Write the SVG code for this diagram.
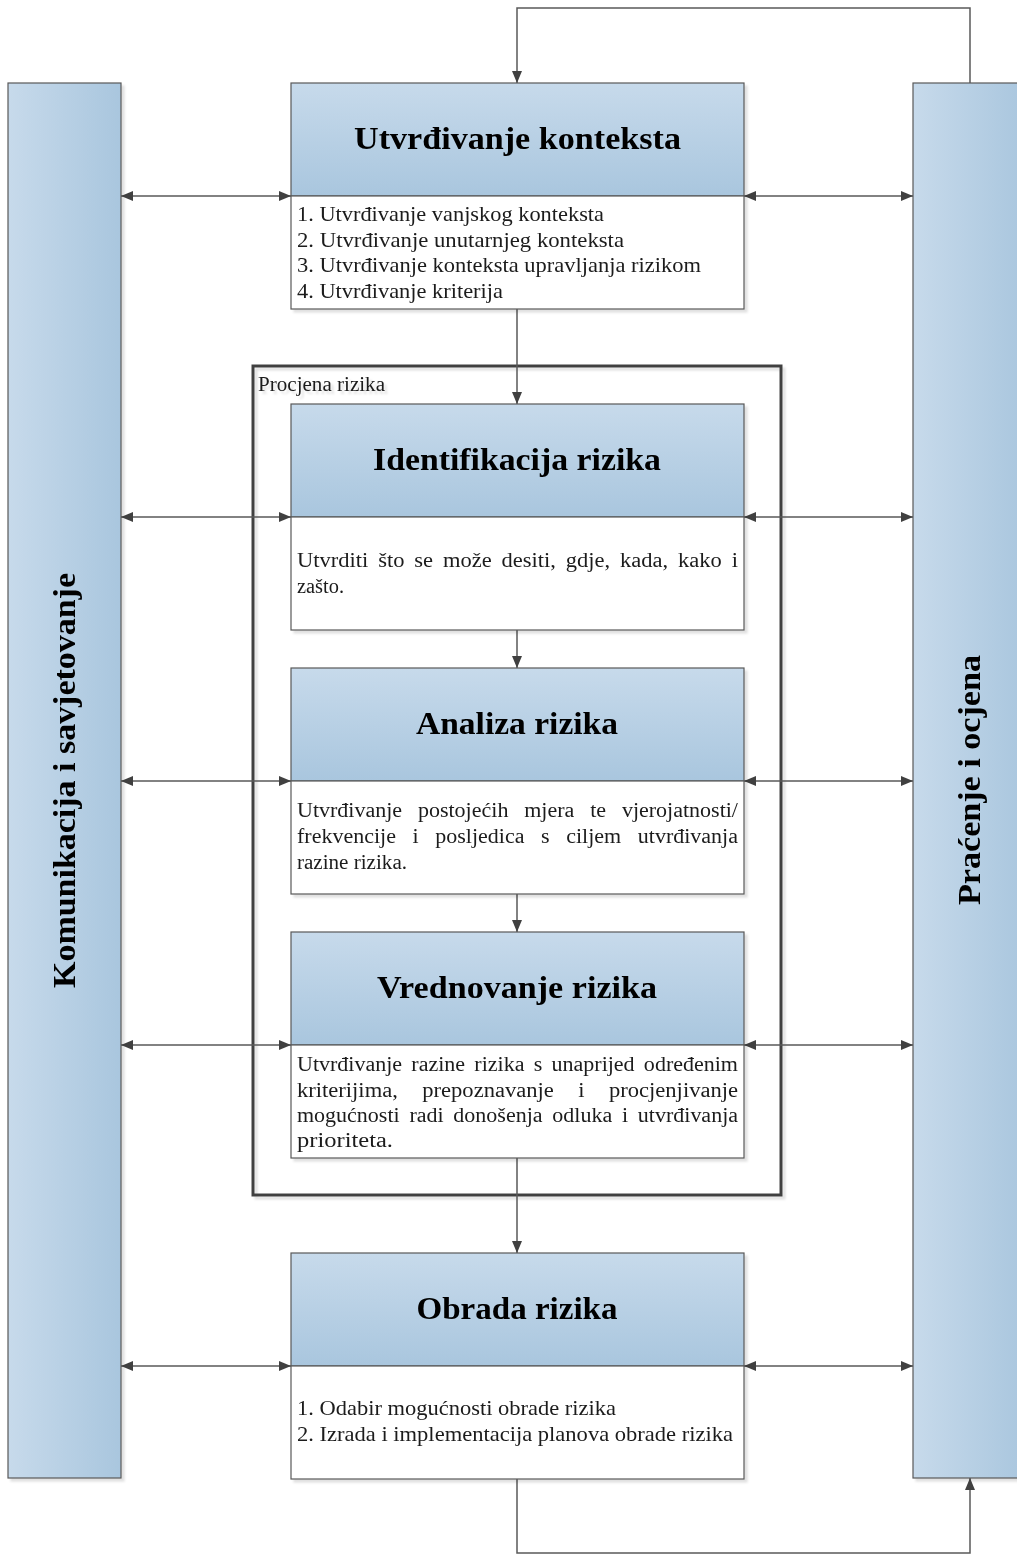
<svg xmlns="http://www.w3.org/2000/svg" width="1017" height="1555" viewBox="0 0 1017 1555">
<defs>
<linearGradient id="gh" x1="0" y1="0" x2="0" y2="1"><stop offset="0" stop-color="#c7daeb"/><stop offset="1" stop-color="#a9c6de"/></linearGradient>
<linearGradient id="gv" x1="0" y1="0" x2="1" y2="0"><stop offset="0" stop-color="#c7daeb"/><stop offset="1" stop-color="#a9c6de"/></linearGradient>
<filter id="sh" x="-5%" y="-5%" width="110%" height="110%"><feDropShadow dx="3" dy="3" stdDeviation="0.8" flood-color="#000" flood-opacity="0.12"/></filter>
<marker id="ae" viewBox="0 0 12 10" refX="12" refY="5" markerWidth="12" markerHeight="10" markerUnits="userSpaceOnUse" orient="auto"><path d="M0,0 L12,5 L0,10 z" fill="#404040"/></marker>
<marker id="as" viewBox="0 0 12 10" refX="0" refY="5" markerWidth="12" markerHeight="10" markerUnits="userSpaceOnUse" orient="auto"><path d="M12,0 L0,5 L12,10 z" fill="#404040"/></marker>
</defs>
<style>
.hd{fill:url(#gh);stroke:#595959;stroke-width:1.2}
.bd{fill:#fff;stroke:#595959;stroke-width:1.2}
.bar{fill:url(#gv);stroke:#595959;stroke-width:1.2}
.t{font-family:"Liberation Serif","DejaVu Serif",serif;font-weight:bold;font-size:31px;fill:#000;text-anchor:middle}
.b{font-family:"Liberation Serif","DejaVu Serif",serif;font-size:20px;fill:#1a1a1a}
.l{font-family:"Liberation Serif","DejaVu Serif",serif;font-size:21px;fill:#1a1a1a}
.c{fill:none;stroke:#595959;stroke-width:1.5}
</style>
<g filter="url(#sh)">
<g id="komunikacija"><rect class="bar" x="8" y="83" width="113" height="1395"/>
<text class="t" transform="translate(75,780.5) rotate(-90)" textLength="415" lengthAdjust="spacingAndGlyphs">Komunikacija i savjetovanje</text></g>
<g id="pracenje"><rect class="bar" x="913" y="83" width="113" height="1395"/>
<text class="t" transform="translate(980,780) rotate(-90)" textLength="250" lengthAdjust="spacingAndGlyphs">Praćenje i ocjena</text></g>
<g id="procjena"><rect x="253" y="366" width="528" height="829" fill="none" stroke="#404040" stroke-width="3"/>
<text class="b" x="258" y="391" font-size="19" textLength="127" lengthAdjust="spacingAndGlyphs">Procjena rizika</text></g>
</g>
<g id="connectors">
<path class="c" d="M970,83 V8 H517 V83" marker-end="url(#ae)"/>
<path class="c" d="M517,1479 V1553 H970 V1478" marker-end="url(#ae)"/>
<path class="c" d="M517,309 V404" marker-end="url(#ae)"/>
<path class="c" d="M517,630 V668" marker-end="url(#ae)"/>
<path class="c" d="M517,894 V932" marker-end="url(#ae)"/>
<path class="c" d="M517,1158 V1253" marker-end="url(#ae)"/>
<path class="c" d="M121,196 H291" marker-start="url(#as)" marker-end="url(#ae)"/>
<path class="c" d="M744,196 H913" marker-start="url(#as)" marker-end="url(#ae)"/>
<path class="c" d="M121,517 H291" marker-start="url(#as)" marker-end="url(#ae)"/>
<path class="c" d="M744,517 H913" marker-start="url(#as)" marker-end="url(#ae)"/>
<path class="c" d="M121,781 H291" marker-start="url(#as)" marker-end="url(#ae)"/>
<path class="c" d="M744,781 H913" marker-start="url(#as)" marker-end="url(#ae)"/>
<path class="c" d="M121,1045 H291" marker-start="url(#as)" marker-end="url(#ae)"/>
<path class="c" d="M744,1045 H913" marker-start="url(#as)" marker-end="url(#ae)"/>
<path class="c" d="M121,1366 H291" marker-start="url(#as)" marker-end="url(#ae)"/>
<path class="c" d="M744,1366 H913" marker-start="url(#as)" marker-end="url(#ae)"/>
</g>
<g filter="url(#sh)">
<g id="kontekst">
<rect class="hd" x="291" y="83" width="453" height="113"/>
<rect class="bd" x="291" y="196" width="453" height="113"/>
<text class="t" x="517.5" y="149" textLength="327" lengthAdjust="spacingAndGlyphs">Utvrđivanje konteksta</text>
<text class="l" x="297" y="221" textLength="307" lengthAdjust="spacingAndGlyphs">1. Utvrđivanje vanjskog konteksta</text>
<text class="l" x="297" y="247" textLength="327" lengthAdjust="spacingAndGlyphs">2. Utvrđivanje unutarnjeg konteksta</text>
<text class="l" x="297" y="272" textLength="404" lengthAdjust="spacingAndGlyphs">3. Utvrđivanje konteksta upravljanja rizikom</text>
<text class="l" x="297" y="298" textLength="206" lengthAdjust="spacingAndGlyphs">4. Utvrđivanje kriterija</text>
</g>
<g id="identifikacija">
<rect class="hd" x="291" y="404" width="453" height="113"/>
<rect class="bd" x="291" y="517" width="453" height="113"/>
<text class="t" x="517" y="470" textLength="288" lengthAdjust="spacingAndGlyphs">Identifikacija rizika</text>
<text class="b" x="297" y="567" word-spacing="3.8" textLength="441" lengthAdjust="spacingAndGlyphs">Utvrditi što se može desiti, gdje, kada, kako i</text>
<text class="b" x="297" y="593" textLength="47" lengthAdjust="spacingAndGlyphs">zašto.</text>
</g>
<g id="analiza">
<rect class="hd" x="291" y="668" width="453" height="113"/>
<rect class="bd" x="291" y="781" width="453" height="113"/>
<text class="t" x="517" y="734" textLength="202" lengthAdjust="spacingAndGlyphs">Analiza rizika</text>
<text class="b" x="297" y="817" word-spacing="9.4" textLength="441" lengthAdjust="spacingAndGlyphs">Utvrđivanje postojećih mjera te vjerojatnosti/</text>
<text class="b" x="297" y="843" word-spacing="10.1" textLength="441" lengthAdjust="spacingAndGlyphs">frekvencije i posljedica s ciljem utvrđivanja</text>
<text class="b" x="297" y="869" textLength="110" lengthAdjust="spacingAndGlyphs">razine rizika.</text>
</g>
<g id="vrednovanje">
<rect class="hd" x="291" y="932" width="453" height="113"/>
<rect class="bd" x="291" y="1045" width="453" height="113"/>
<text class="t" x="517" y="998" textLength="280" lengthAdjust="spacingAndGlyphs">Vrednovanje rizika</text>
<text class="b" x="297" y="1071" word-spacing="3.4" textLength="441" lengthAdjust="spacingAndGlyphs">Utvrđivanje razine rizika s unaprijed određenim</text>
<text class="b" x="297" y="1097" word-spacing="16.7" textLength="441" lengthAdjust="spacingAndGlyphs">kriterijima, prepoznavanje i procjenjivanje</text>
<text class="b" x="297" y="1122" word-spacing="3.9" textLength="441" lengthAdjust="spacingAndGlyphs">mogućnosti radi donošenja odluka i utvrđivanja</text>
<text class="b" x="297" y="1147" textLength="96" lengthAdjust="spacingAndGlyphs">prioriteta.</text>
</g>
<g id="obrada">
<rect class="hd" x="291" y="1253" width="453" height="113"/>
<rect class="bd" x="291" y="1366" width="453" height="113"/>
<text class="t" x="517" y="1319" textLength="201" lengthAdjust="spacingAndGlyphs">Obrada rizika</text>
<text class="l" x="297" y="1415" textLength="319" lengthAdjust="spacingAndGlyphs">1. Odabir mogućnosti obrade rizika</text>
<text class="l" x="297" y="1441" textLength="436" lengthAdjust="spacingAndGlyphs">2. Izrada i implementacija planova obrade rizika</text>
</g>
</g>
</svg>
